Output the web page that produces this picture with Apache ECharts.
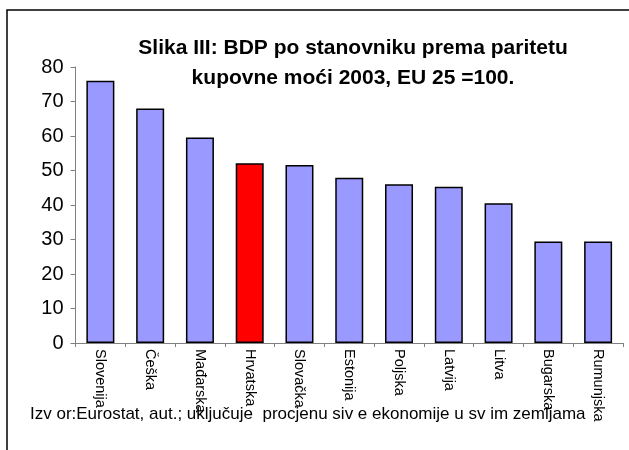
<!DOCTYPE html>
<html>
<head>
<meta charset="utf-8">
<script src="https://cdn.jsdelivr.net/npm/echarts@6/dist/echarts.min.js"></script>
<style>
  html, body { margin: 0; padding: 0; background: #fff; }
</style>
</head>
<body>
<div id="main" style="width:629px;height:450px"></div>
<script>
const countries = ['Slovenija', 'Češka', 'Mađarska', 'Hrvatska', 'Slovačka', 'Estonija', 'Poljska', 'Latvija', 'Litva', 'Bugarska', 'Rumunjska'];
const gdpValues = [76.0, 68.0, 59.6, 52.1, 51.6, 47.9, 46.0, 45.3, 40.5, 29.4, 29.4];
const highlighted = 'Hrvatska';
const sourceText = 'Izv or:Eurostat, aut.; uključuje  procjenu siv e ekonomije u sv im zemljama';

const chart = echarts.init(document.getElementById('main'));

const option = {
  animation: false,
  title: {
    text: 'Slika III: BDP po stanovniku prema paritetu\nkupovne moći 2003, EU 25 =100.',
    left: 348,
    top: 28,
    textAlign: 'center',
    textStyle: {
      fontFamily: 'Liberation Sans, Arial, sans-serif',
      fontSize: 21,
      fontWeight: 'bold',
      color: '#000',
      lineHeight: 30
    }
  },
  grid: {
    left: 75.5,
    right: 6,
    top: 67,
    bottom: 107
  },
  xAxis: {
    type: 'category',
    data: countries,
    axisLine: { lineStyle: { color: '#808080', width: 1 } },
    axisTick: { show: true, length: 4, lineStyle: { color: '#808080' } },
    axisLabel: {
      rotate: -90,
      margin: 6,
      fontFamily: 'Liberation Sans, Arial, sans-serif',
      fontSize: 14.5,
      color: '#000'
    }
  },
  yAxis: {
    type: 'value',
    min: 0,
    max: 80,
    interval: 10,
    splitLine: { show: false },
    axisLine: { show: true, lineStyle: { color: '#808080', width: 1 } },
    axisTick: { show: true, length: 5, lineStyle: { color: '#808080' } },
    axisLabel: {
      margin: 12,
      fontFamily: 'Liberation Sans, Arial, sans-serif',
      fontSize: 20,
      color: '#000'
    }
  },
  series: [
    {
      type: 'bar',
      barWidth: 28,
      data: gdpValues.map((v, i) => ({
        value: v,
        itemStyle: { color: countries[i] === highlighted ? '#ff0000' : '#9999ff' }
      })),
      itemStyle: {
        borderColor: '#000',
        borderWidth: 1.5
      }
    }
  ],
  graphic: [
    {
      type: 'rect',
      shape: { x: 7, y: 10, width: 640, height: 460 },
      style: { fill: 'none', stroke: '#000', lineWidth: 1.5 },
      silent: true
    },
    {
      type: 'text',
      left: 30,
      top: 406,
      style: {
        text: sourceText,
        fontFamily: 'Liberation Sans, Arial, sans-serif',
        fontSize: 17,
        fill: '#000'
      }
    }
  ]
};

chart.setOption(option);
</script>
</body>
</html>
